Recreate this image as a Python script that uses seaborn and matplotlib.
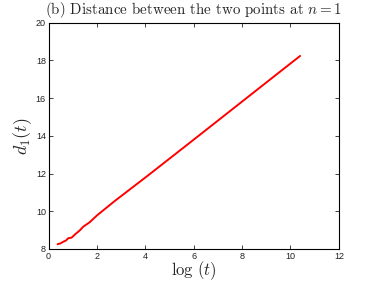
import matplotlib
matplotlib.use("Agg")
import matplotlib.pyplot as plt
import seaborn as sns
import pandas as pd

# values
log_t = [0.37, 0.50, 0.60, 0.72, 0.81, 0.95, 1.09, 1.30, 1.43, 1.70, 2.00,
         2.74, 4.11, 6.00, 8.00, 10.00, 10.40]
d1 = [8.25, 8.30, 8.38, 8.45, 8.57, 8.60, 8.77, 9.00, 9.18, 9.42, 9.78,
      10.55, 11.90, 13.80, 15.82, 17.84, 18.24]

x_ticks = [0, 2, 4, 6, 8, 10, 12]
y_ticks = [8, 10, 12, 14, 16, 18, 20]

df = pd.DataFrame({"log_t": log_t, "d1": d1})

sns.set_style("ticks")
plt.rcParams["mathtext.fontset"] = "cm"
plt.rcParams["font.family"] = ["Liberation Sans", "DejaVu Sans"]

fig = plt.figure(figsize=(3.74, 2.81), dpi=100)
ax = fig.add_axes([0.130, 0.114, 0.776, 0.805])

sns.lineplot(data=df, x="log_t", y="d1", color="#ff0000", linewidth=1.4, ax=ax)

ax.set_xlim(0, 12)
ax.set_ylim(8, 20)
ax.set_xticks(x_ticks)
ax.set_yticks(y_ticks)
ax.tick_params(direction="in", length=3, width=0.6, labelsize=6.5,
               top=True, right=True, pad=2, colors="#222222")
for s in ax.spines.values():
    s.set_linewidth(0.8)
    s.set_color("black")

ax.set_xlabel(r"$\log\,(t)$", fontsize=12, labelpad=-1)
ax.set_ylabel(r"$d_1(t)$", fontsize=13, labelpad=1)
ax.set_title(r"(b) Distance between the two points at $n = 1$",
             fontsize=10.8, family="cmr10", pad=6)

fig.savefig("out.png", dpi=100)
